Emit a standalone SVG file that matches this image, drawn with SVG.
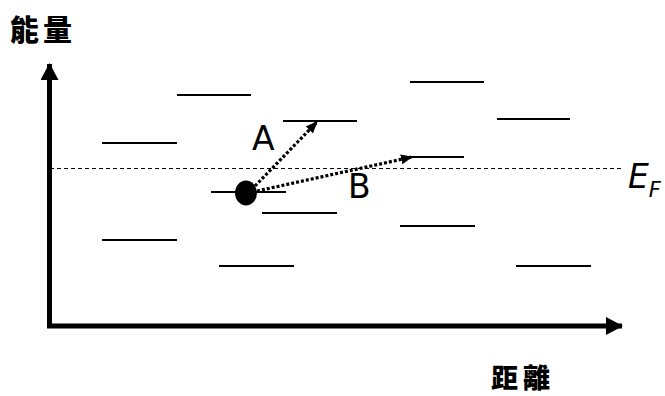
<svg xmlns="http://www.w3.org/2000/svg" width="665" height="396" viewBox="0 0 665 396">
  <style>
    .axis { stroke: #000; stroke-width: 5; fill: none; }
    .level { stroke: #000; stroke-width: 2; }
    .fermi { stroke: #000; stroke-width: 1; stroke-dasharray: 4 3; }
    .hop { stroke: #000; stroke-width: 3.2; stroke-dasharray: 3 2; fill: none; }
    .lbl { font-family: "DejaVu Sans", "Liberation Sans", sans-serif; font-size: 33px; fill: #000; }
    .cjk { font-family: "Noto Sans CJK TC", "Noto Sans CJK SC", sans-serif; font-weight: 900; fill: #000; }
  </style>
  <defs>
    <marker id="bigHead" markerWidth="18" markerHeight="18" refX="16" refY="9" orient="auto" markerUnits="userSpaceOnUse">
      <path d="M0,0 L17,9 L0,18 Z" fill="#000"/>
    </marker>
    <marker id="smallHead" markerWidth="12" markerHeight="10" refX="11" refY="5" orient="auto" markerUnits="userSpaceOnUse">
      <path d="M0,0 L12,5 L0,10 Z" fill="#000"/>
    </marker>
  </defs>

  <rect width="665" height="396" fill="#fff"/>

  <!-- axes -->
  <g id="axes">
    <path class="axis" d="M49.5,326 L49.5,64" marker-end="url(#bigHead)"/>
    <path class="axis" d="M47,326 L622,326" marker-end="url(#bigHead)"/>
    <text class="cjk" x="10" y="41" font-size="29" letter-spacing="4">能量</text>
    <text class="cjk" x="491" y="388" font-size="27" letter-spacing="5">距離</text>
  </g>

  <!-- Fermi level -->
  <g id="fermi">
    <line class="fermi" x1="50" y1="168.5" x2="622" y2="168.5"/>
    <text class="lbl" x="628" y="188" font-size="35" font-style="italic">E<tspan font-size="21" dy="9">F</tspan></text>
  </g>

  <!-- localized energy states -->
  <g id="levels">
    <line class="level" x1="177" y1="95" x2="251" y2="95"/>
    <line class="level" x1="410" y1="82" x2="484" y2="82"/>
    <line class="level" x1="102" y1="143" x2="177" y2="143"/>
    <line class="level" x1="283" y1="121" x2="357" y2="121"/>
    <line class="level" x1="497" y1="119" x2="570" y2="119"/>
    <line class="level" x1="408" y1="157" x2="464" y2="157"/>
    <line class="level" x1="211" y1="192" x2="286" y2="192"/>
    <line class="level" x1="262" y1="213" x2="337" y2="213"/>
    <line class="level" x1="102" y1="240" x2="177" y2="240"/>
    <line class="level" x1="400" y1="226" x2="475" y2="226"/>
    <line class="level" x1="219" y1="266" x2="294" y2="266"/>
    <line class="level" x1="516" y1="266" x2="591" y2="266" stroke-width="3"/>
  </g>

  <!-- electron -->
  <g id="electron">
    <ellipse cx="246" cy="193" rx="11" ry="12.5" fill="#000"/>
  </g>

  <!-- hopping transitions -->
  <g id="connectors">
    <path class="hop" d="M255,186 L317,122" marker-end="url(#smallHead)"/>
    <path class="hop" d="M257,191 L412,157" marker-end="url(#smallHead)"/>
  </g>

  <g id="labels">
    <text class="lbl" x="252" y="150">A</text>
    <text class="lbl" x="348" y="198">B</text>
  </g>
</svg>
